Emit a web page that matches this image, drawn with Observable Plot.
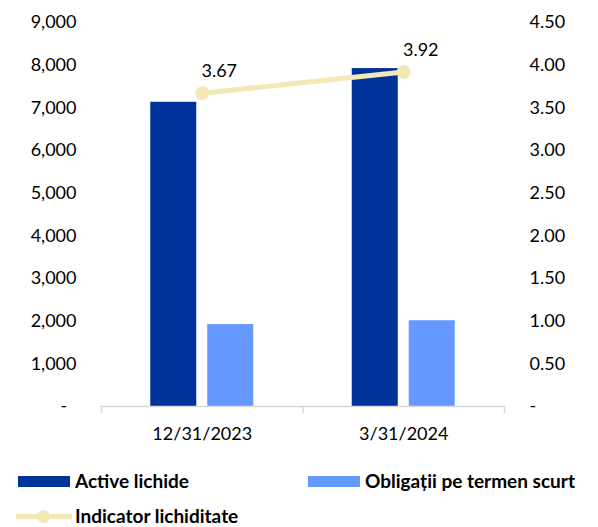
<!DOCTYPE html>
<html>
<head>
<meta charset="utf-8">
<script src="https://cdn.jsdelivr.net/npm/d3@7"></script>
<script src="https://cdn.jsdelivr.net/npm/@observablehq/plot@0.6"></script>
<style>
  html, body { margin: 0; padding: 0; background: #fff; }
  #wrap { position: relative; width: 598px; height: 527px; overflow: hidden; font-family: Lato, "Open Sans", sans-serif; }
  .legend { position: absolute; left: 0; top: 445px; width: 598px; height: 82px; }
  .item { position: absolute; display: flex; align-items: center; font-weight: bold; font-size: 19px; line-height: 20px; color: #000; white-space: nowrap; }
  .sw { display: inline-block; width: 52px; height: 11px; margin-right: 5px; }
  .ln { position: relative; display: inline-block; width: 56px; height: 5px; margin-right: 3px; }
  .ln i { position: absolute; left: 21px; top: -4px; width: 13px; height: 13px; border-radius: 50%; }
</style>
</head>
<body>
<div id="wrap"></div>
<script>
// Data
const categories = ["12/31/2023", "3/31/2024"];
const activeLichide = [7130, 7920];
const obligatii = [1920, 2010];
const indicator = [3.67, 3.92];
const seriesNames = ["Active lichide", "Obligații pe termen scurt", "Indicator lichiditate"];
const leftTicks = [0, 1000, 2000, 3000, 4000, 5000, 6000, 7000, 8000, 9000];
const rightTicks = [0, 0.5, 1, 1.5, 2, 2.5, 3, 3.5, 4, 4.5];

const colors = { active: "#003399", oblig: "#6699FF", line: "#F5E8B7" };
const ratio = 9000 / 4.5; // right-axis to left-axis conversion

const bars = categories.map((c, i) => ({ cat: c, i, active: activeLichide[i], oblig: obligatii[i], ind: indicator[i] }));

const fmtLeft = d => d === 0 ? "-\u00a0\u00a0" : d3.format(",")(d);
const fmtRight = d => d === 0 ? "-" : d.toFixed(2);

const chart = Plot.plot({
  width: 598,
  height: 445,
  marginLeft: 101,
  marginRight: 94,
  marginTop: 22,
  marginBottom: 39,
  style: { fontFamily: "Lato, 'Open Sans', sans-serif", fontSize: "18px", color: "#000", background: "#fff" },
  x: { type: "linear", domain: [0, categories.length], axis: null },
  y: { domain: [0, 9000], axis: null },
  marks: [
    // bars
    Plot.rectY(bars, { x1: d => d.i, x2: d => d.i + 1, y: "active", fill: colors.active, insetLeft: 49.25, insetRight: 106.25 }),
    Plot.rectY(bars, { x1: d => d.i, x2: d => d.i + 1, y: "oblig", fill: colors.oblig, insetLeft: 106.25, insetRight: 49.25 }),
    // baseline axis
    Plot.ruleY([0], { stroke: "#D9D9D9", strokeWidth: 1.5 }),
    Plot.axisX({ ticks: d3.range(categories.length + 1), tickSize: 7, tickFormat: () => "", stroke: "#D9D9D9", strokeWidth: 1.5, strokeOpacity: 1 }),
    Plot.axisX({ ticks: categories.map((c, i) => i + 0.5), tickSize: 0, tickPadding: 21, tickFormat: v => categories[Math.floor(v)], fontSize: 18 }),
    // left axis
    Plot.axisY({ anchor: "left", ticks: leftTicks, tickSize: 0, tickPadding: 25, tickFormat: fmtLeft, fontSize: 18 }),
    // right axis (secondary)
    Plot.axisY({ anchor: "right", ticks: rightTicks.map(v => v * ratio), tickSize: 0, tickPadding: 25, tickFormat: v => fmtRight(v / ratio), fontSize: 18 }),
    // line
    Plot.line(bars, { x: d => d.i + 0.5, y: d => d.ind * ratio, stroke: colors.line, strokeWidth: 5 }),
    Plot.dot(bars, { x: d => d.i + 0.5, y: d => d.ind * ratio, r: 7, fill: colors.line }),
    Plot.text(bars, { x: d => d.i + 0.5, y: d => d.ind * ratio, text: d => d.ind.toFixed(2), dx: 17, dy: -22, fontSize: 18, fill: "#000" })
  ]
});

const wrap = document.getElementById("wrap");
wrap.appendChild(chart);

const legend = document.createElement("div");
legend.className = "legend";
legend.innerHTML = `
  <div class="item" style="left:18px; top:36px; transform: translateY(-50%);"><span class="sw" style="background:${colors.active}"></span>${seriesNames[0]}</div>
  <div class="item" style="left:308px; top:36px; transform: translateY(-50%);"><span class="sw" style="background:${colors.oblig}"></span>${seriesNames[1]}</div>
  <div class="item" style="left:16px; top:71px; transform: translateY(-50%);"><span class="ln" style="background:${colors.line}"><i style="background:${colors.line}"></i></span>${seriesNames[2]}</div>
`;
wrap.appendChild(legend);
</script>
</body>
</html>
